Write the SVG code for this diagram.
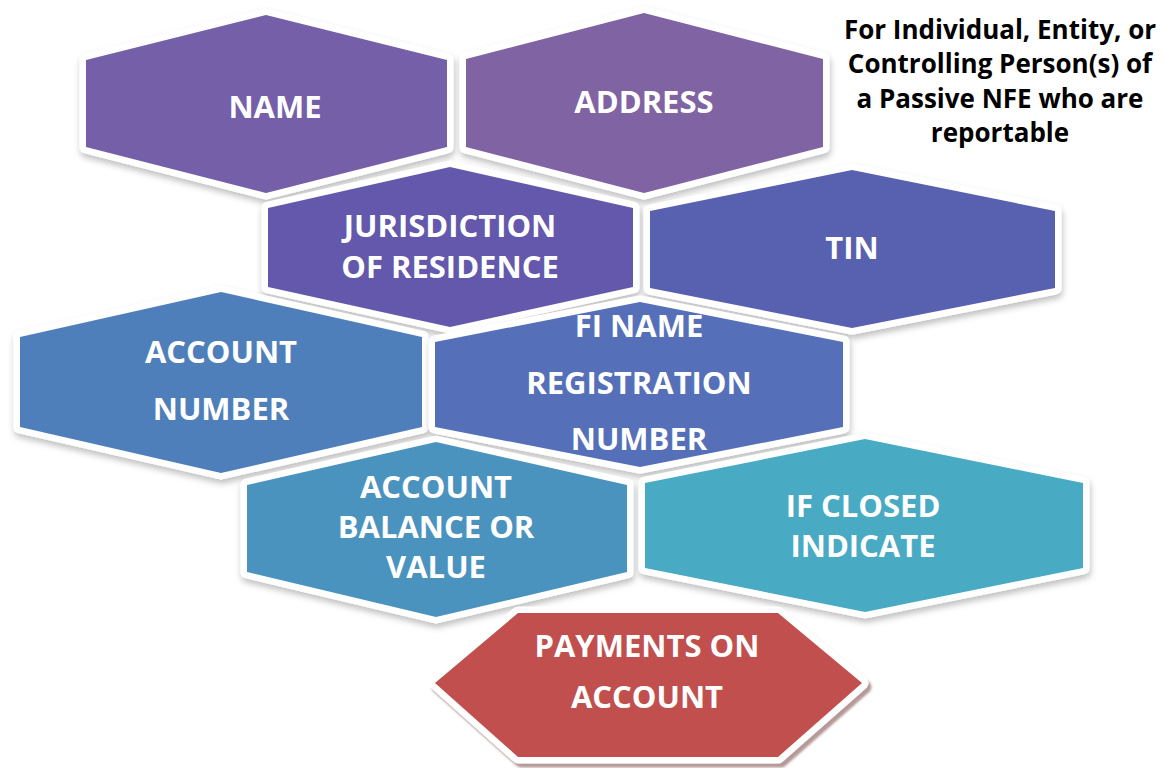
<svg xmlns="http://www.w3.org/2000/svg" width="1165" height="768" viewBox="0 0 1165 768">
  <defs>
    <filter id="sh" x="-10%" y="-10%" width="120%" height="130%">
      <feDropShadow dx="1" dy="4" stdDeviation="3" flood-color="#000" flood-opacity="0.25"/>
    </filter>
    <filter id="shr" x="-10%" y="-10%" width="120%" height="130%">
      <feDropShadow dx="3" dy="4" stdDeviation="1" flood-color="#7a4444" flood-opacity="0.55"/>
    </filter>
    <style>
      .hex { stroke: #ffffff; stroke-width: 13; paint-order: stroke; stroke-linejoin: round; filter: url(#sh); }
      .lbl { font-family: "Open Sans", "Liberation Sans", sans-serif; font-weight: bold; font-size: 31px; fill: #ffffff; text-anchor: middle; }
      .note { font-family: "Open Sans", "Liberation Sans", sans-serif; font-weight: bold; font-size: 26px; fill: #000000; text-anchor: middle; }
    </style>
  </defs>
  <rect width="1165" height="768" fill="#ffffff"/>

  <g id="node-name">
    <polygon class="hex" fill="#745fa8" points="266,15 447,60 447,147 266,193 86,147 86,60"/>
    <text class="lbl" x="275" y="118">NAME</text>
  </g>
  <g id="node-address">
    <polygon class="hex" fill="#8063a3" points="644,13 823,59 823,147 644,193 466,147 466,59"/>
    <text class="lbl" x="644" y="113">ADDRESS</text>
  </g>
  <g id="node-jurisdiction">
    <polygon class="hex" fill="#6459ab" points="450,167 633,208 633,287 450,327 268,287 268,208"/>
    <text class="lbl" x="450" y="237">JURISDICTION</text>
    <text class="lbl" x="450" y="278">OF RESIDENCE</text>
  </g>
  <g id="node-tin">
    <polygon class="hex" fill="#5860b0" points="852,170 1055,211 1055,288 852,328 650,288 650,211"/>
    <text class="lbl" x="852" y="259">TIN</text>
  </g>
  <g id="node-account-number">
    <polygon class="hex" fill="#4f7fbb" points="221,292 422,337 422,427 221,473 20,427 20,337"/>
    <text class="lbl" x="221" y="363">ACCOUNT</text>
    <text class="lbl" x="221" y="420">NUMBER</text>
  </g>
  <g id="node-fi-name">
    <polygon class="hex" fill="#5470b8" points="640,302 843,342 843,427 640,467 435,427 435,342"/>
    <text class="lbl" x="639" y="337">FI NAME</text>
    <text class="lbl" x="639" y="394">REGISTRATION</text>
    <text class="lbl" x="639" y="450">NUMBER</text>
  </g>
  <g id="node-account-balance">
    <polygon class="hex" fill="#4b93bf" points="436,442 627,485 627,572 436,617 247,572 247,485"/>
    <text class="lbl" x="436" y="498">ACCOUNT</text>
    <text class="lbl" x="436" y="538">BALANCE OR</text>
    <text class="lbl" x="436" y="578">VALUE</text>
  </g>
  <g id="node-if-closed">
    <polygon class="hex" fill="#4aaac4" points="865,439 1083,483 1083,568 865,612 645,568 645,483"/>
    <text class="lbl" x="863" y="517">IF CLOSED</text>
    <text class="lbl" x="863" y="557">INDICATE</text>
  </g>
  <g id="node-payments">
    <polygon fill="#c0504d" stroke="#ffffff" stroke-width="13" paint-order="stroke" stroke-linejoin="round" filter="url(#shr)" points="518,613 778,613 862,683 778,757 518,757 435,683"/>
    <text class="lbl" x="647" y="657">PAYMENTS ON</text>
    <text class="lbl" x="647" y="708">ACCOUNT</text>
  </g>

  <g id="connectors"></g>

  <g id="note">
    <text class="note" x="1000" y="39">For Individual, Entity, or</text>
    <text class="note" x="1000" y="73">Controlling Person(s) of</text>
    <text class="note" x="1000" y="108">a Passive NFE who are</text>
    <text class="note" x="1000" y="142">reportable</text>
  </g>
</svg>
